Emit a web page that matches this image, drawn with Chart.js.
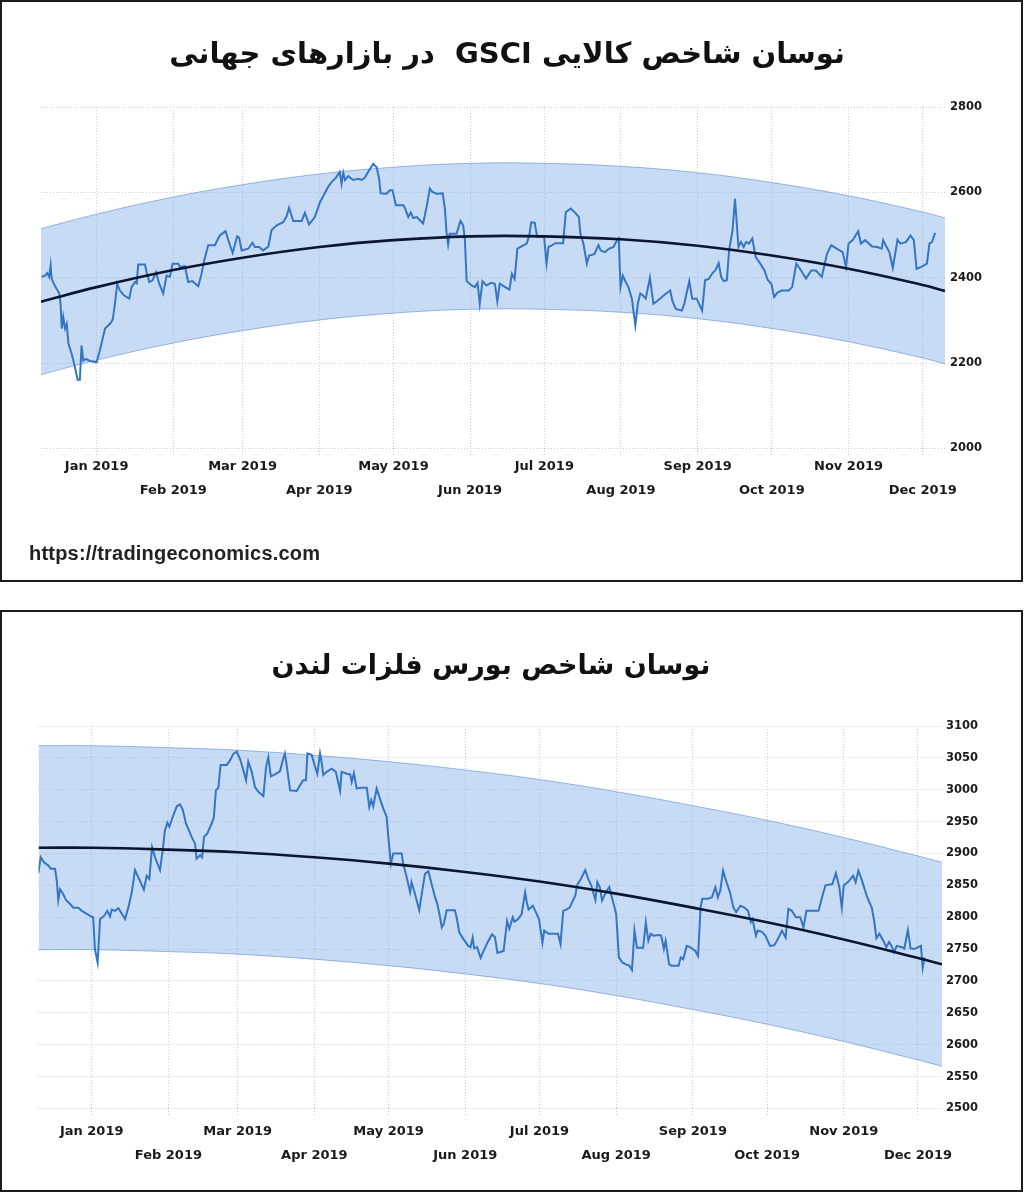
<!DOCTYPE html>
<html lang="fa">
<head>
<meta charset="utf-8">
<script src="https://cdn.jsdelivr.net/npm/chart.js@4.4.1/dist/chart.umd.min.js"></script>
<style>
  html, body { margin: 0; padding: 0; background: #fff; }
  body { width: 1024px; height: 1192px; position: relative; overflow: hidden; }
  .box { position: absolute; left: 0; width: 1023px; height: 582px; box-sizing: border-box; border: 2px solid #1b1b1b; background: #fff; }
  .box canvas { position: absolute; left: 0; top: 0; }
  .title { position: absolute; width: 1000px; height: 40px; line-height: 40px; text-align: center; direction: rtl;
           font-family: "DejaVu Sans", sans-serif; font-weight: bold; color: #111; white-space: pre; }
  .src { position: absolute; left: 27px; top: 540px; font: bold 20px "Liberation Sans", Arial, sans-serif; color: #222; letter-spacing: 0.2px; }
</style>
</head>
<body>

<div class="box" style="top:0">
  <canvas id="gsciChart" width="1019" height="578"></canvas>
  <div class="title" style="left:5px; top:31px; font-size:29px">نوسان شاخص کالایی GSCI  در بازارهای جهانی</div>
  <div class="src">https://tradingeconomics.com</div>
</div>

<div class="box" style="top:610px">
  <canvas id="lmeChart" width="1019" height="578"></canvas>
  <div class="title" style="left:-11px; top:33px; font-size:27px">نوسان شاخص بورس فلزات لندن</div>
</div>

<script>
// x axis: days counted from 1 Jan 2019
const monthDays   = [0, 31, 59, 90, 120, 151, 181, 212, 243, 273, 304, 334];
const monthLabels = ['Jan 2019', 'Feb 2019', 'Mar 2019', 'Apr 2019', 'May 2019', 'Jun 2019',
                     'Jul 2019', 'Aug 2019', 'Sep 2019', 'Oct 2019', 'Nov 2019', 'Dec 2019'];

// ---- GSCI (top chart) ----
const gsciTicks = [2000, 2200, 2400, 2600, 2800];
const gsciDays = [-22.2, -20.9, -20.0, -19.2, -18.6, -18.2, -17.5, -16.2, -15.1, -14.6, -14.1, -13.5, -12.8, -12.1,
  -11.4, -10.1, -8.8, -7.7, -6.8, -6.1, -5.4, -4.3, -2.7, 0.0, 1.3, 3.4, 5.4, 6.5, 7.4, 8.3, 9.4, 11.0, 13.2, 14.1,
  15.5, 16.2, 16.8, 19.5, 20.2, 21.3, 22.6, 24.0, 25.3, 26.9, 28.3, 29.6, 30.7, 33.0, 33.7, 35.7, 37.0, 38.7, 41.1,
  42.4, 43.5, 45.1, 47.8, 49.8, 52.1, 53.9, 55.0, 56.8, 57.6, 58.6, 61.3, 63.0, 64.0, 65.7, 67.3, 69.4, 70.7, 72.8,
  75.4, 76.8, 77.8, 79.5, 82.9, 84.2, 85.9, 88.2, 90.3, 91.6, 93.6, 95.0, 96.7, 98.3, 99.0, 99.7, 100.4, 101.7, 103.7,
  105.7, 107.1, 108.4, 109.8, 111.8, 113.2, 114.2, 114.8, 117.2, 118.5, 119.6, 121.0, 124.0, 124.6, 126.0, 127.0,
  128.0, 129.5, 130.5, 132.0, 133.4, 134.7, 135.7, 137.5, 139.9, 140.8, 141.5, 142.1, 142.7, 145.5, 147.1, 148.2,
  148.9, 149.6, 151.6, 153.0, 154.0, 154.9, 156.0, 157.6, 159.5, 161.0, 162.0, 163.0, 165.2, 166.9, 167.9, 169.0,
  170.1, 172.5, 173.9, 174.9, 175.7, 177.1, 178.1, 180.9, 181.9, 182.7, 184.0, 185.5, 188.6, 189.7, 191.7, 193.5,
  195.0, 195.6, 196.8, 198.2, 199.1, 201.2, 202.9, 203.8, 205.5, 207.2, 209.0, 210.4, 211.1, 211.8, 212.7, 213.9,
  215.0, 216.4, 217.8, 218.8, 219.8, 220.8, 222.0, 223.7, 225.1, 226.5, 228.2, 230.0, 231.9, 232.8, 234.2, 236.6,
  237.6, 239.6, 240.8, 242.6, 244.8, 246.0, 247.6, 249.0, 250.1, 251.5, 252.5, 253.5, 254.8, 255.7, 257.1, 258.1,
  258.8, 259.5, 260.5, 261.6, 262.6, 263.7, 265.1, 266.5, 267.9, 270.0, 271.4, 272.8, 273.9, 275.3, 277.0, 279.8,
  281.2, 282.9, 284.8, 286.8, 288.9, 290.8, 293.2, 294.1, 295.3, 297.0, 299.2, 301.6, 303.0, 304.0, 305.8, 307.9,
  309.0, 310.7, 313.5, 315.6, 317.4, 318.0, 319.0, 320.5, 321.9, 323.8, 325.0, 327.3, 329.0, 330.4, 331.5, 333.2,
  335.7, 336.7, 337.8, 339.0];
const gsciValues = [2402, 2405, 2411, 2402, 2429, 2398, 2388, 2374, 2363, 2339, 2281, 2308, 2281, 2292,
  2245, 2222, 2191, 2161, 2161, 2241, 2206, 2210, 2205, 2202, 2230, 2281, 2292, 2302, 2339, 2386, 2370, 2359, 2351, 2378,
  2390, 2387, 2431, 2431, 2413, 2390, 2394, 2413, 2386, 2363, 2405, 2402, 2433, 2433, 2425, 2427, 2390, 2392, 2380,
  2409, 2441, 2476, 2476, 2499, 2509, 2476, 2458, 2497, 2494, 2464, 2468, 2482, 2472, 2472, 2464, 2473, 2511, 2523,
  2530, 2544, 2564, 2533, 2533, 2552, 2525, 2542, 2577, 2591, 2613, 2624, 2634, 2648, 2620, 2646, 2629, 2638, 2629,
  2632, 2629, 2634, 2648, 2667, 2659, 2632, 2598, 2597, 2605, 2605, 2570, 2570, 2564, 2542, 2553,
  2540, 2542, 2536, 2527, 2566, 2609, 2601, 2597, 2598, 2562, 2503, 2478, 2503, 2503, 2533, 2523,
  2488, 2392, 2382, 2378, 2388, 2339, 2392, 2382, 2388, 2386, 2345, 2386, 2378, 2372, 2409, 2397,
  2468, 2476, 2480, 2499, 2530, 2529, 2496, 2496, 2433, 2472, 2476, 2481, 2481, 2554, 2562, 2552,
  2542, 2503, 2480, 2433, 2452, 2455, 2476, 2464, 2460, 2468, 2472, 2488, 2492, 2378, 2405, 2390,
  2378, 2351, 2288, 2339, 2363, 2359, 2351, 2400, 2339, 2345, 2353, 2362, 2370, 2345, 2327, 2323,
  2339, 2392, 2351, 2351, 2323, 2394, 2398, 2411, 2417, 2434, 2402, 2392, 2394, 2464, 2511, 2585,
  2527, 2472, 2484, 2472, 2484, 2480, 2492, 2448, 2437, 2417, 2394, 2386, 2355, 2365, 2370, 2370,
  2378, 2433, 2417, 2398, 2417, 2417, 2402, 2425, 2456, 2476, 2468, 2460, 2425, 2480, 2489, 2509,
  2480, 2488, 2473, 2472, 2468, 2488, 2476, 2460, 2423, 2489, 2480, 2484, 2499, 2488, 2421, 2425,
  2433, 2480, 2484, 2505];
const gsciBandDays = [-22.5, 0, 31, 59, 90, 120, 151, 181, 212, 243, 273, 304, 334, 343];
const gsciTrend    = [2344, 2378, 2418, 2447, 2472, 2488, 2497, 2497, 2490, 2475, 2452, 2421, 2383, 2369];
const gsciUpper    = [2515, 2549, 2589, 2618, 2643, 2659, 2668, 2668, 2661, 2646, 2623, 2592, 2554, 2540];
const gsciLower    = [2173, 2207, 2247, 2276, 2301, 2317, 2326, 2326, 2319, 2304, 2281, 2250, 2212, 2198];

// ---- LME index (bottom chart) ----
const lmeTicks = [2500, 2550, 2600, 2650, 2700, 2750, 2800, 2850, 2900, 2950, 3000, 3050, 3100];
const lmeDays = [-21.6, -20.6, -19.3, -17.5, -16.5, -14.8, -14.1, -13.5, -12.8, -11.5, -10.4, -8.8, -7.4, -5.4, -4.0,
  -2.3, -0.7, 0.6, 1.3, 2.4, 3.4, 5.0, 6.3, 7.4, 8.1, 9.4, 10.8, 13.5, 14.8, 16.2, 17.5, 19.5, 21.1, 22.2, 23.3, 24.4,
  25.6, 27.6, 28.7, 29.6, 30.6, 31.4, 33.0, 34.4, 35.7, 36.8, 38.1, 39.0, 40.4, 41.8, 42.4, 43.8, 44.6, 45.4, 46.7,
  48.5, 49.4, 50.2, 51.2, 52.1, 54.6, 55.9, 57.2, 58.6, 59.9, 61.0, 62.4, 63.3, 64.7, 66.0, 67.3, 69.4, 70.5, 71.4,
  72.4, 74.1, 76.1, 77.2, 78.1, 79.0, 80.2, 82.9, 84.2, 85.5, 86.6, 87.2, 88.9, 90.3, 91.2, 92.3, 92.9, 93.6, 95.0,
  97.0, 98.7, 100.4, 101.0, 103.1, 104.5, 105.1, 106.0, 107.1, 109.0, 111.2, 112.2, 113.0, 113.8, 115.2, 116.5, 117.9,
  119.2, 119.9, 120.9, 121.9, 125.3, 125.9, 127.3, 128.7, 129.3, 130.7, 132.4, 133.4, 134.7, 136.1, 137.4, 138.8,
  139.7, 140.8, 141.5, 142.3, 143.5, 146.8, 147.5, 148.6, 150.2, 152.2, 153.1, 154.0, 154.6, 155.8, 157.2, 158.5,
  160.2, 161.8, 163.0, 164.0, 166.5, 167.9, 168.8, 170.2, 170.9, 172.4, 173.8, 175.2, 175.9, 176.6, 178.3, 179.3,
  180.8, 182.2, 182.9, 184.7, 186.5, 188.5, 189.5, 190.6, 191.8, 193.2, 194.5, 195.5, 196.2, 197.7, 199.5, 200.7,
  201.9, 203.6, 204.4, 205.4, 206.3, 207.8, 209.2, 210.3, 212.0, 213.1, 214.5, 215.9, 217.3, 218.4, 219.4, 220.4,
  221.5, 222.9, 224.0, 225.0, 226.0, 227.1, 229.2, 230.2, 231.3, 232.0, 233.4, 234.4, 236.2, 237.2, 238.1, 239.1,
  240.5, 241.9, 244.0, 245.1, 246.1, 246.8, 248.9, 250.7, 252.1, 253.1, 254.1, 255.2, 256.6, 258.0, 259.4, 260.5,
  262.2, 263.9, 265.3, 266.4, 267.1, 268.5, 269.2, 270.9, 272.3, 274.2, 275.9, 277.4, 279.0, 279.7, 280.5, 281.6,
  283.0, 284.7, 286.4, 287.7, 288.9, 290.5, 293.8, 295.2, 296.6, 299.4, 300.8, 302.2, 303.2, 304.0, 305.7, 307.8,
  308.8, 309.9, 311.4, 313.5, 315.3, 316.3, 317.2, 318.4, 320.0, 321.2, 322.3, 323.3, 324.3, 325.4, 327.5, 328.5,
  329.9, 331.0, 332.5, 334.1, 335.2, 335.9, 336.6];
const lmeValues = [2869, 2894, 2886, 2881, 2876, 2876, 2857, 2827, 2844, 2836, 2827, 2821, 2815, 2815, 2810,
  2806, 2802, 2800, 2750, 2729, 2797, 2802, 2810, 2801, 2812, 2810, 2814, 2797, 2815, 2839, 2874, 2857, 2843, 2865, 2860, 2910,
  2894, 2874, 2905, 2936, 2948, 2942, 2960, 2974, 2977, 2969, 2947, 2939, 2926, 2915, 2892, 2897, 2894, 2926, 2931,
  2947, 2957, 2999, 3003, 3039, 3039, 3046, 3056, 3060, 3049, 3035, 3015, 3044, 3028, 3004, 2997, 2990, 3036, 3051,
  3021, 3024, 3029, 3046, 3057, 3033, 2999, 2998, 3007, 3015, 3015, 3057, 3055, 3036, 3025, 3057, 3044, 3023, 3028,
  3033, 3028, 2998, 3028, 3025, 3024, 3012, 3026, 3002, 3003, 3003, 2973, 2984, 2974, 3002, 2986, 2970,
  2958, 2926, 2884, 2900, 2900, 2884, 2863, 2839, 2855, 2836, 2811, 2836, 2868, 2872, 2852, 2831,
  2821, 2800, 2784, 2789, 2811, 2811, 2800, 2776, 2766, 2755, 2753, 2768, 2751, 2753, 2736, 2748,
  2762, 2773, 2769, 2744, 2747, 2794, 2782, 2800, 2793, 2797, 2805, 2839, 2823, 2812, 2818, 2810,
  2797, 2760, 2779, 2774, 2774, 2774, 2758, 2810, 2812, 2815, 2826, 2834, 2850, 2860, 2874, 2860,
  2850, 2827, 2855, 2847, 2826, 2839, 2847, 2831, 2805, 2737, 2729, 2726, 2724, 2717, 2779, 2752,
  2752, 2752, 2792, 2763, 2774, 2771, 2772, 2771, 2750, 2763, 2726, 2724, 2724, 2724, 2737, 2734,
  2755, 2753, 2747, 2739, 2815, 2829, 2829, 2831, 2847, 2831, 2842, 2873, 2855, 2839, 2815, 2808,
  2818, 2815, 2810, 2792, 2797, 2771, 2779, 2777, 2771, 2755, 2756, 2766, 2779, 2774, 2768, 2813,
  2810, 2800, 2800, 2784, 2810, 2810, 2810, 2831, 2850, 2852, 2869, 2847, 2815, 2850, 2855, 2865,
  2855, 2873, 2857, 2831, 2815, 2794, 2767, 2774, 2763, 2753, 2761, 2755, 2745, 2755, 2753, 2751,
  2780, 2751, 2750, 2753, 2755, 2721, 2737];
const lmeBandDays = [-21.5, 0, 31, 59, 90, 120, 151, 181, 212, 243, 273, 304, 334, 343.7];
const lmeTrend    = [2909, 2909, 2906, 2902, 2894, 2884, 2871, 2856, 2837, 2815, 2792, 2765, 2736, 2726];
const lmeUpper    = [3069, 3069, 3066, 3062, 3054, 3044, 3031, 3016, 2997, 2975, 2952, 2925, 2896, 2886];
const lmeLower    = [2749, 2749, 2746, 2742, 2734, 2724, 2711, 2696, 2677, 2655, 2632, 2605, 2576, 2566];

const pts = (xs, ys) => xs.map((x, i) => ({ x, y: ys[i] }));

function drawChart(id, o) {
    return new Chart(document.getElementById(id), {
        type: 'line',
        data: {
            datasets: [
                { data: pts(o.bandDays, o.trend), borderColor: '#0b1630', borderWidth: 2.6,
                  tension: 0.4, pointRadius: 0, fill: false, order: 0 },
                { data: pts(o.days, o.values), borderColor: '#3476c4', borderWidth: 2,
                  tension: 0, pointRadius: 0, fill: false, order: 1 },
                { data: pts(o.bandDays, o.upper), borderColor: 'rgba(80,130,210,0.55)', borderWidth: 1,
                  tension: 0.4, pointRadius: 0, fill: false, order: 2 },
                { data: pts(o.bandDays, o.lower), borderColor: 'rgba(80,130,210,0.55)', borderWidth: 1,
                  tension: 0.4, pointRadius: 0, fill: '-1', backgroundColor: 'rgba(110,160,225,0.38)', order: 3 },
            ]
        },
        options: {
            responsive: false,
            animation: false,
            events: [],
            layout: { padding: o.pad },
            plugins: { legend: { display: false }, tooltip: { enabled: false }, title: { display: false } },
            scales: {
                x: {
                    type: 'linear', min: o.xMin, max: o.xMax,
                    afterBuildTicks: s => { s.ticks = monthDays.map(v => ({ value: v })); },
                    grid: { color: '#cfcfcf', tickLength: 7, tickColor: '#c4c4c4', tickBorderDash: [1, 2] },
                    border: { display: false, dash: [1, 2] },
                    ticks: {
                        autoSkip: false, maxRotation: 0, padding: o.xPad, color: '#1a1a1a',
                        font: { family: 'DejaVu Sans', size: 13, weight: 'bold', lineHeight: o.xLine },
                        // alternate months on two rows
                        callback: (v, i) => i % 2 === 0 ? [monthLabels[i], ''] : ['', monthLabels[i]]
                    }
                },
                y: {
                    position: 'right', min: o.ticks[0], max: o.ticks[o.ticks.length - 1],
                    afterBuildTicks: s => { s.ticks = o.ticks.map(v => ({ value: v })); },
                    grid: { color: '#cfcfcf', drawTicks: false },
                    border: { display: false, dash: [1, 2] },
                    ticks: { padding: o.yPad, color: '#1a1a1a', callback: v => String(v),
                             font: { family: 'DejaVu Sans', size: 11.5, weight: 'bold' } }
                }
            }
        }
    });
}

drawChart('gsciChart', {
    days: gsciDays, values: gsciValues, bandDays: gsciBandDays,
    trend: gsciTrend, upper: gsciUpper, lower: gsciLower, ticks: gsciTicks,
    xMin: -22.5, xMax: 343, xPad: 0, xLine: 1.79, yPad: 5,
    pad: { left: 39, right: 34, top: 105, bottom: 78 }
});

drawChart('lmeChart', {
    days: lmeDays, values: lmeValues, bandDays: lmeBandDays,
    trend: lmeTrend, upper: lmeUpper, lower: lmeLower, ticks: lmeTicks,
    xMin: -21.5, xMax: 343.7, xPad: 4, xLine: 1.85, yPad: 4,
    pad: { left: 36.5, right: 39, top: 114, bottom: 18.5 }
});
</script>
</body>
</html>
